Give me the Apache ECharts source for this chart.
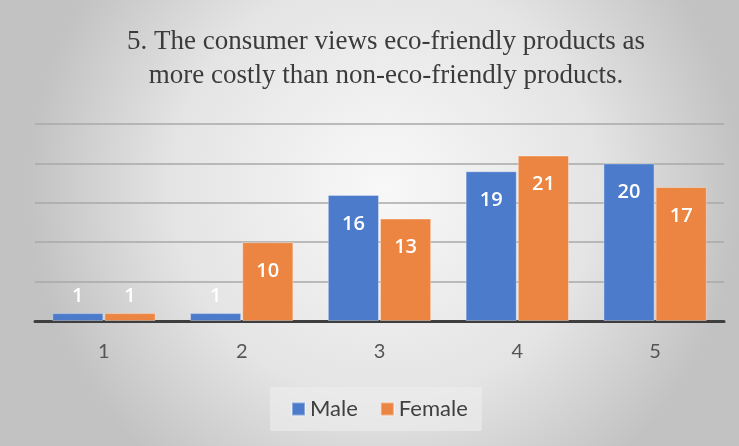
<!DOCTYPE html>
<html>
<head>
<meta charset="utf-8">
<script src="https://cdn.jsdelivr.net/npm/echarts@6/dist/echarts.min.js"></script>
<style>
html,body{margin:0;padding:0;}
#chart{width:739px;height:446px;}
</style>
</head>
<body>
<div id="chart"></div>
<script>
const titleText = "5. The consumer views eco-friendly products as\nmore costly than non-eco-friendly products.";
const categories = ["1", "2", "3", "4", "5"];
const seriesNames = ["Male", "Female"];
const maleValues = [1, 1, 16, 19, 20];
const femaleValues = [1, 10, 13, 21, 17];
const colors = ["#4c7bcb", "#ec8541"];

function buildData(values) {
  return values.map(v => ({
    value: v,
    label: v < 3 ? { position: "top", distance: 7 } : { position: "insideTop", distance: 19 }
  }));
}

const chart = echarts.init(document.getElementById("chart"));
chart.setOption({
  animation: false,
  backgroundColor: {
    type: "radial", x: 0.52, y: 0.42, r: 0.8,
    colorStops: [
      { offset: 0, color: "#f8f8f8" },
      { offset: 0.6, color: "#e4e4e4" },
      { offset: 1, color: "#c2c2c2" }
    ]
  },
  title: {
    text: titleText,
    left: 381,
    top: 20,
    textAlign: "center",
    textStyle: {
      fontFamily: "Liberation Serif",
      fontWeight: "normal",
      fontSize: 27,
      lineHeight: 34,
      color: "#3b3b3b"
    }
  },
  legend: {
    data: seriesNames,
    left: 270,
    top: 387,
    backgroundColor: "rgba(236,236,236,0.65)",
    padding: [11, 14, 11, 21],
    itemWidth: 13,
    itemHeight: 13,
    itemGap: 22,
    icon: "rect",
    textStyle: { fontFamily: "Lato", fontSize: 22, color: "#404040" }
  },
  grid: { left: 35, right: 15, top: 124, bottom: 125 },
  xAxis: {
    type: "category",
    data: categories,
    axisLine: { lineStyle: { color: "#3e3e3e", width: 3 } },
    axisTick: { show: false },
    axisLabel: { fontFamily: "Lato", fontSize: 20, color: "#555555", margin: 21 }
  },
  yAxis: {
    type: "value",
    min: 0, max: 25, interval: 5,
    axisLabel: { show: false },
    axisLine: { show: false },
    axisTick: { show: false },
    splitLine: { lineStyle: { color: "#a9a9a9", width: 1.5 } }
  },
  series: [
    {
      name: seriesNames[0], type: "bar", data: buildData(maleValues),
      barGap: "2%", barCategoryGap: "25%",
      itemStyle: { color: colors[0], borderColor: "rgba(255,255,255,0.35)", borderWidth: 1 },
      label: { show: true, color: "#ffffff", fontFamily: "Open Sans", fontWeight: 600, fontSize: 20 }
    },
    {
      name: seriesNames[1], type: "bar", data: buildData(femaleValues),
      itemStyle: { color: colors[1], borderColor: "rgba(255,255,255,0.35)", borderWidth: 1 },
      label: { show: true, color: "#ffffff", fontFamily: "Open Sans", fontWeight: 600, fontSize: 20 }
    }
  ]
});
</script>
</body>
</html>
